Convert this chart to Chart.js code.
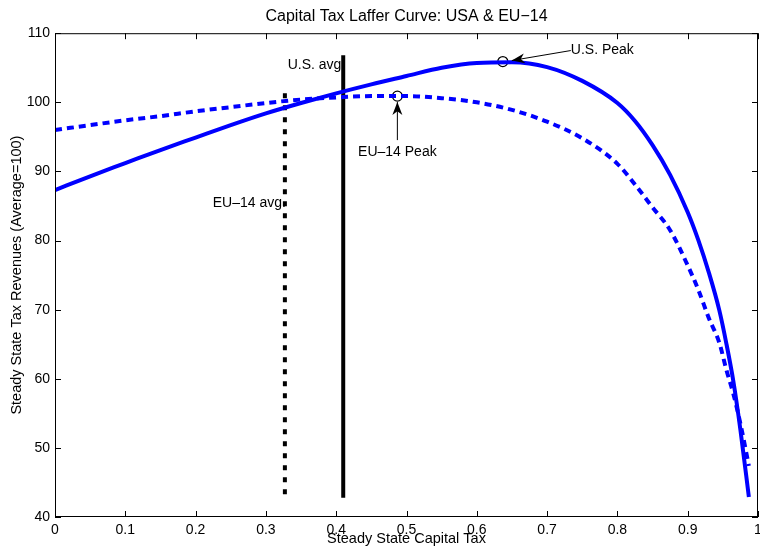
<!DOCTYPE html>
<html>
<head>
<meta charset="utf-8">
<script src="https://cdn.jsdelivr.net/npm/chart.js@4.4.0/dist/chart.umd.min.js"></script>
<style>
  html, body { margin: 0; padding: 0; background: #fff; }
  #wrap { width: 760px; height: 548px; }
</style>
</head>
<body>
<div id="wrap"><canvas id="chart" width="760" height="548"></canvas></div>
<script>
'use strict';

/* Data */
const TAX    = [0, 0.05, 0.1, 0.15, 0.2, 0.25, 0.3, 0.35, 0.4, 0.45, 0.5, 0.55, 0.6, 0.65, 0.7, 0.75, 0.8, 0.825, 0.85, 0.875, 0.9, 0.915, 0.93, 0.945, 0.955, 0.965, 0.975, 0.987];
const US_REV = [87.3, 89.3, 91.2, 93.1, 94.9, 96.7, 98.4, 99.9, 101.3, 102.6, 103.8, 105.0, 105.7, 105.8, 105.1, 103.1, 99.9, 97.3, 93.8, 89.5, 84.1, 80.1, 75.4, 69.9, 65.1, 59.6, 52.6, 42.9];
const EU_REV = [96.0, 96.7, 97.4, 98.0, 98.7, 99.3, 99.9, 100.4, 100.7, 100.9, 100.9, 100.6, 100.0, 98.9, 97.2, 94.8, 91.1, 88.1, 84.8, 81.5, 76.4, 72.9, 68.8, 65.2, 61.3, 57.8, 53.5, 47.4];

const US_PEAK = { x: 0.637, y: 105.9 };
const EU_PEAK = { x: 0.487, y: 100.9 };

const US_AVG_TAX  = 0.41;
const US_AVG_SPAN = [106.8, 42.8];
const EU_AVG_TAX  = 0.327;
const EU_AVG_SPAN = [101.3, 42.8];

const X_TICKS = [0, 0.1, 0.2, 0.3, 0.4, 0.5, 0.6, 0.7, 0.8, 0.9, 1];
const Y_TICKS = [40, 50, 60, 70, 80, 90, 100, 110];

const FONT = 'Liberation Sans, Arial, Helvetica, sans-serif';
const BLUE = '#0000ff';

function pts(xs, ys) {
  return xs.map((x, i) => ({ x: x, y: ys[i] }));
}

/* Box, inward ticks and annotations, MATLAB style */
const framePlugin = {
  id: 'frame',
  afterDraw(chart) {
    const ctx = chart.ctx;
    const a = chart.chartArea;
    const sx = chart.scales.x, sy = chart.scales.y;
    ctx.save();
    ctx.strokeStyle = '#000';
    ctx.lineWidth = 1;
    ctx.strokeRect(a.left + 0.5, a.top + 0.5, a.right - a.left - 1, a.bottom - a.top - 1);
    ctx.beginPath();
    X_TICKS.forEach(v => {
      const p = Math.round(sx.getPixelForValue(v)) + 0.5;
      ctx.moveTo(p, a.bottom); ctx.lineTo(p, a.bottom - 6);
      ctx.moveTo(p, a.top);    ctx.lineTo(p, a.top + 6);
    });
    Y_TICKS.forEach(v => {
      const p = Math.round(sy.getPixelForValue(v)) + 0.5;
      ctx.moveTo(a.left, p);  ctx.lineTo(a.left + 6, p);
      ctx.moveTo(a.right, p); ctx.lineTo(a.right - 6, p);
    });
    ctx.stroke();

    // labels
    ctx.fillStyle = '#000';
    ctx.font = '14px ' + FONT;
    ctx.textBaseline = 'middle';
    ctx.textAlign = 'right';
    ctx.fillText('U.S. avg.', sx.getPixelForValue(US_AVG_TAX) + 2, sy.getPixelForValue(US_AVG_SPAN[0]) + 10);
    ctx.fillText('EU\u201314 avg.', sx.getPixelForValue(EU_AVG_TAX) + 1, sy.getPixelForValue(85.4));

    // EU-14 peak arrow
    const ex = sx.getPixelForValue(EU_PEAK.x), ey = sy.getPixelForValue(EU_PEAK.y);
    arrow(ctx, ex, ey + 44, ex, ey + 6);
    ctx.textAlign = 'center';
    ctx.fillText('EU\u201314 Peak', ex, ey + 56);

    // U.S. peak arrow
    const ux = sx.getPixelForValue(US_PEAK.x), uy = sy.getPixelForValue(US_PEAK.y);
    arrow(ctx, ux + 68, uy - 11, ux + 9, uy - 1);
    ctx.textAlign = 'left';
    ctx.fillText('U.S. Peak', ux + 68, uy - 11);
    ctx.restore();
  }
};

function arrow(ctx, x1, y1, x2, y2) {
  const ang = Math.atan2(y2 - y1, x2 - x1);
  const len = 13, half = 5;
  ctx.beginPath();
  ctx.moveTo(x1, y1);
  ctx.lineTo(x2, y2);
  ctx.lineWidth = 1;
  ctx.stroke();
  const bx = x2 - len * Math.cos(ang), by = y2 - len * Math.sin(ang);
  const nx = x2 - len * 0.7 * Math.cos(ang), ny = y2 - len * 0.7 * Math.sin(ang);
  ctx.beginPath();
  ctx.moveTo(x2, y2);
  ctx.lineTo(bx + half * Math.sin(ang), by - half * Math.cos(ang));
  ctx.lineTo(nx, ny);
  ctx.lineTo(bx - half * Math.sin(ang), by + half * Math.cos(ang));
  ctx.closePath();
  ctx.fill();
}

const ctx = document.getElementById('chart').getContext('2d');
new Chart(ctx, {
  type: 'line',
  data: {
    datasets: [
      {
        label: 'USA',
        data: pts(TAX, US_REV),
        borderColor: BLUE,
        borderWidth: 4,
        pointRadius: 0,
        pointHoverRadius: 0,
        cubicInterpolationMode: 'monotone'
      },
      {
        label: 'EU-14',
        data: pts(TAX, EU_REV),
        borderColor: BLUE,
        borderWidth: 4,
        borderDash: [7, 5],
        pointRadius: 0,
        pointHoverRadius: 0,
        cubicInterpolationMode: 'monotone'
      },
      {
        label: 'U.S. avg.',
        data: US_AVG_SPAN.map(y => ({ x: US_AVG_TAX, y: y })),
        borderColor: '#000',
        borderWidth: 4,
        pointRadius: 0,
        pointHoverRadius: 0
      },
      {
        label: 'EU-14 avg.',
        data: EU_AVG_SPAN.map(y => ({ x: EU_AVG_TAX, y: y })),
        borderColor: '#000',
        borderWidth: 4,
        borderDash: [5, 7],
        pointRadius: 0,
        pointHoverRadius: 0
      },
      {
        label: 'Peaks',
        data: [US_PEAK, EU_PEAK],
        showLine: false,
        pointStyle: 'circle',
        pointRadius: 5,
        pointHoverRadius: 5,
        pointBorderWidth: 1.2,
        pointBorderColor: '#000',
        pointBackgroundColor: 'rgba(0,0,0,0)'
      }
    ]
  },
  options: {
    responsive: false,
    animation: false,
    layout: { autoPadding: false, padding: { left: 0, right: 2, top: 0, bottom: 0 } },
    plugins: {
      legend: { display: false },
      tooltip: { enabled: false },
      title: {
        display: true,
        fullSize: false,
        text: 'Capital Tax Laffer Curve: USA & EU\u221214',
        color: '#000',
        font: { family: FONT, size: 16, weight: 'normal' },
        padding: { top: 7, bottom: 7 }
      }
    },
    scales: {
      x: {
        type: 'linear',
        min: 0, max: 1,
        afterBuildTicks: s => { s.ticks = X_TICKS.map(v => ({ value: v })); },
        afterFit: s => { s.height = 31; s.paddingLeft = 0; s.paddingRight = 0; },
        grid: { display: false, drawTicks: false },
        border: { display: false },
        ticks: {
          color: '#000', font: { family: FONT, size: 14 }, padding: 5, maxRotation: 0,
          callback: v => String(Math.round(v * 10) / 10)
        },
        title: { display: true, text: 'Steady State Capital Tax', color: '#000', font: { family: FONT, size: 14.5 }, padding: 0 }
      },
      y: {
        type: 'linear',
        min: 40, max: 110,
        afterBuildTicks: s => { s.ticks = Y_TICKS.map(v => ({ value: v })); },
        afterFit: s => { s.width = 55; },
        grid: { display: false, drawTicks: false },
        border: { display: false },
        ticks: { color: '#000', font: { family: FONT, size: 14 }, padding: 5 },
        title: { display: true, text: 'Steady State Tax Revenues (Average=100)', color: '#000', font: { family: FONT, size: 14.5 }, padding: { top: 8, bottom: 0 } }
      }
    }
  },
  plugins: [framePlugin]
});
</script>
</body>
</html>
